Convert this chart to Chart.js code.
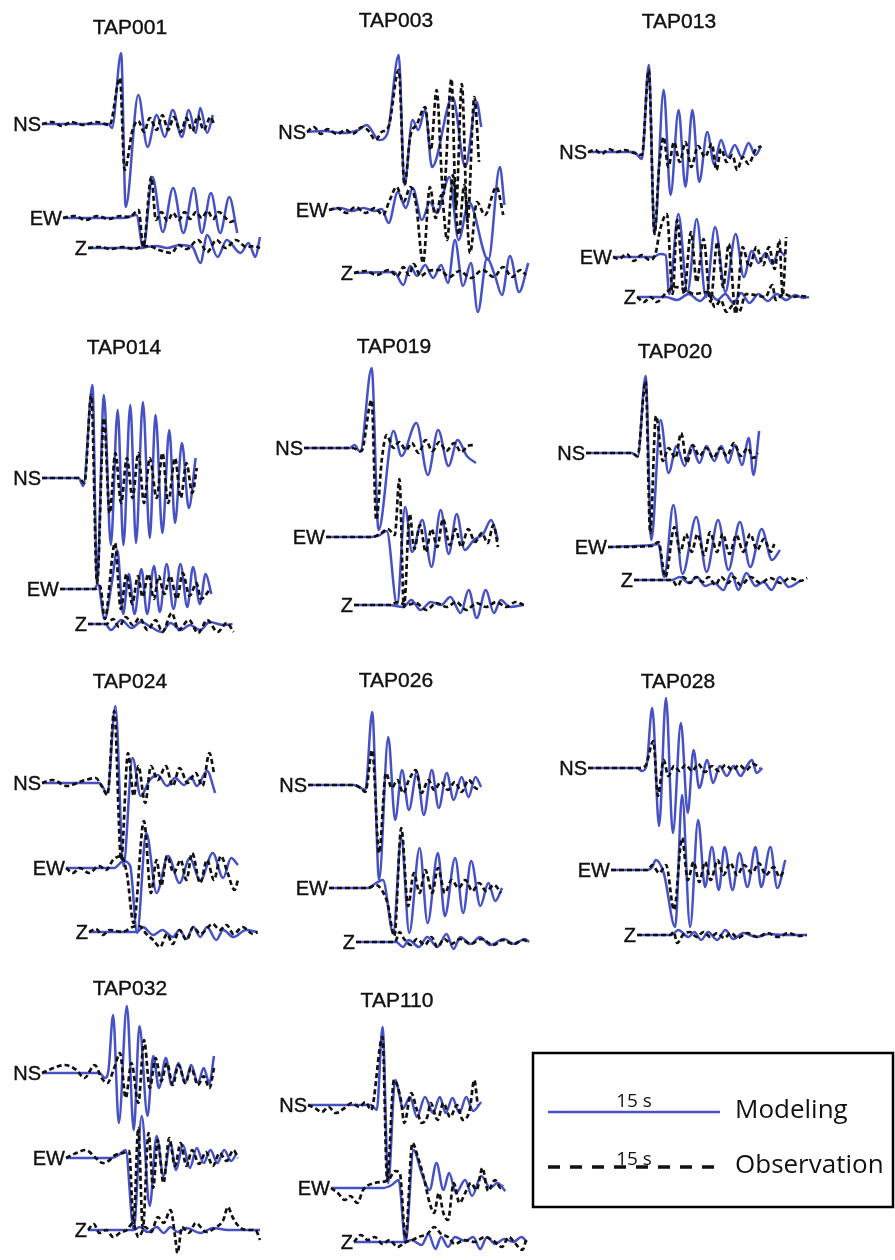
<!DOCTYPE html>
<html>
<head>
<meta charset="utf-8">
<title>Modeling vs observation waveforms</title>
<script src="https://cdn.jsdelivr.net/npm/chart.js@4.4.1/dist/chart.umd.min.js"></script>
<style>
  html, body { margin: 0; padding: 0; background: #fff; }
  #wrap { position: relative; width: 895px; height: 1260px; }
</style>
</head>
<body>
<div id="wrap"><canvas id="waves"></canvas></div>
<script>
// Each trace: [time after trace start (s), amplitude (arbitrary units)]
// "Mod" = modeling (blue), "Obs" = observation (black dashed)

const tap001NsMod = [[0,0],[5.8,0],[6.1,-0.4],[6.9,7.1],[7.3,-8.3],[8.4,2.9],[9.2,-2.3],[10.0,0.9],[10.7,-1.3],[11.4,1.4],[12.2,-1.3],[12.8,1.4],[13.4,-0.9],[13.8,1.6],[14.4,-0.9],[14.9,0.9]];
const tap001NsObs = [[0,0],[0.9,0.2],[1.7,-0.2],[2.6,0.2],[3.5,-0.1],[4.8,0.2],[5.9,-0.1],[6.8,4.6],[7.2,-4.6],[7.9,-0.6],[8.4,0.3],[8.9,-0.8],[9.4,0.6],[10.0,-0.6],[10.5,0.9],[11.0,-0.6],[11.5,0.7],[12.1,-0.8],[12.6,0.6],[13.1,-0.7],[13.6,0.8],[14.1,-0.6],[14.7,0.7],[15.0,0]];
const tap001EwMod = [[0,0],[5.3,0],[6.4,0.3],[7.0,-3.0],[7.8,4.1],[8.7,-1.4],[9.6,3.0],[10.5,-1.5],[11.4,3.0],[12.1,-1.5],[12.9,2.5],[13.7,-1.5],[14.5,2.1],[15.2,-1.5]];
const tap001EwObs = [[0,0],[1.0,0.2],[2.0,-0.2],[3.0,0.2],[4.0,-0.1],[5.0,0.2],[5.8,0.1],[6.6,0.8],[7.0,-2.9],[7.7,4.1],[8.1,-0.2],[8.6,0.6],[9.1,-0.3],[9.6,0.5],[10.1,-0.2],[10.6,0.6],[11.1,-0.1],[11.6,0.6],[12.1,0.0],[12.6,0.7],[13.1,-0.1],[13.6,0.6],[14.1,0.1],[14.6,-0.4],[15.0,-0.2]];
const tap001ZMod = [[0,0],[4.6,0],[5.1,0.1],[6.0,0.2],[6.9,0],[8.0,0.3],[9.1,0.1],[9.8,-1.5],[10.4,1.3],[11.3,-0.9],[12.1,0.8],[13.3,-0.5],[14.0,0.5],[14.6,-0.9],[15.0,1.1]];
const tap001ZObs = [[0,0],[1.0,0.1],[2.0,-0.1],[3.0,0.1],[4.0,-0.1],[4.6,0.1],[5.3,0.2],[6.2,-0.2],[7.3,-0.5],[7.9,0.3],[8.6,-0.1],[9.6,0.8],[10.4,-0.4],[11.2,0.8],[12.0,0.0],[12.9,0.8],[13.8,0.1],[14.5,0.2],[15.0,0]];

const tap003NsMod = [[0,0],[1.5,0.1],[3.0,-0.1],[4.5,0.2],[5.2,0.7],[6.3,-0.8],[7.0,-0.2],[8.0,7.7],[8.5,-5.3],[9.2,1.2],[9.7,0.2],[10.3,2.2],[10.9,-3.5],[12.7,3.5],[13.8,-3.5],[14.8,3.0],[15.2,0.5]];
const tap003NsObs = [[0,0],[0.6,0.5],[1.2,-0.2],[1.8,0.3],[2.6,-0.2],[3.4,0.2],[4.0,-0.2],[4.8,0.5],[5.3,0.2],[6.0,-0.8],[6.5,0],[7.1,0.5],[8.0,6.2],[8.5,-5.3],[9.0,-0.5],[9.6,0.8],[10.3,2.5],[10.8,-1.8],[11.3,4.2],[11.9,-6.2],[12.6,5.3],[13.0,-7.5],[13.5,4.8],[14.0,-9.0],[14.6,3.5],[15.0,-3.0]];
const tap003EwMod = [[0,0],[1.0,0.2],[2.0,-0.1],[3.0,0.2],[4.0,-0.1],[4.6,0.1],[5.2,-1.3],[6.0,1.8],[6.7,0.2],[7.3,2.2],[8.1,-1.0],[8.8,0.8],[9.4,-0.3],[10.5,3.3],[11.3,-3.0],[12.2,0.8],[13.9,-5.0],[14.9,4.3],[15.3,0.5]];
const tap003EwObs = [[0,0],[0.7,0.2],[1.5,-0.3],[2.3,0.3],[3.2,-0.3],[4.0,0.2],[4.7,-0.5],[5.3,1.0],[5.9,2.3],[6.5,0.8],[7.1,2.3],[7.6,0.5],[8.2,-5.3],[8.8,2.3],[9.3,-0.8],[9.8,1.5],[10.3,-3.0],[10.8,3.5],[11.3,-2.5],[11.8,2.5],[12.3,-4.3],[12.9,0.8],[13.6,-0.5],[14.6,2.3],[15.2,-0.5]];
const tap003ZMod = [[0,0],[3.5,0.1],[4.3,-1.2],[4.9,0.7],[5.5,-0.3],[6.2,0.8],[6.9,-0.5],[7.6,0.8],[8.2,-1.0],[8.8,3.3],[9.5,-1.3],[10.2,1.0],[10.8,-3.9],[11.6,1.5],[12.3,-0.3],[12.9,-2.2],[13.6,1.7],[14.4,-1.9],[15.2,1.0]];
const tap003ZObs = [[0,0],[1.0,0.2],[2.0,-0.2],[3.0,0.3],[3.8,-0.3],[4.3,0.6],[4.8,-0.2],[5.2,0.9],[5.8,-0.3],[6.5,0.2],[7.5,0.3],[8.3,-0.4],[9.2,0.2],[10.2,-0.5],[11.2,0.3],[12.2,-0.4],[13.0,0.6],[13.8,-0.4],[14.5,0.3],[15.0,-0.2]];

const tap013NsMod = [[0,0],[4.0,0],[4.7,-0.7],[5.3,8.7],[5.8,-8.2],[6.6,6.2],[7.2,-4.3],[7.9,4.2],[8.5,-3.5],[9.1,4.2],[9.7,-3.0],[10.4,2.0],[11.0,-1.2],[11.6,1.2],[12.2,-0.5],[12.8,0.7],[13.4,-0.5],[14.0,0.9],[14.6,-0.3],[15.1,0.6]];
const tap013NsObs = [[0,0],[0.6,0.2],[1.2,-0.2],[1.8,0.3],[2.5,0],[3.2,0.2],[4.0,-0.1],[4.7,-0.3],[5.3,8.2],[5.8,-8.2],[6.2,-1.5],[6.6,1.5],[7.0,-1.5],[7.5,1.0],[8.0,-1.0],[8.5,1.0],[9.0,-1.5],[9.6,0.6],[10.2,-0.5],[10.8,0.8],[11.2,-1.8],[11.6,0.3],[12.1,-1.0],[12.6,-0.3],[13.0,-1.8],[13.5,-0.5],[14.0,-1.2],[14.6,0.2],[15.1,0.6]];
const tap013EwMod = [[0,0],[3.5,0],[4.1,0.3],[4.6,0.2],[4.9,-3.7],[5.7,4.3],[6.5,-3.5],[7.3,3.8],[8.1,-4.0],[8.9,3.0],[9.8,-3.5],[10.7,2.3],[11.4,-2.0],[12.1,0.6],[12.7,-0.6],[13.3,0.4],[13.9,-0.7],[14.5,0.6],[15.0,0.1]];
const tap013EwObs = [[0,0],[0.5,-0.2],[1.2,0.3],[1.8,-0.4],[2.5,0.2],[3.2,-0.3],[3.7,0.3],[4.1,2.7],[4.7,4.3],[5.2,-3.7],[5.6,3.7],[6.2,-3.7],[6.8,2.5],[7.3,-2.5],[7.9,1.8],[8.5,-4.5],[9.1,1.5],[9.6,-3.0],[10.1,1.3],[10.7,-5.7],[11.3,1.0],[11.9,-1.0],[12.5,1.0],[13.1,-0.8],[13.6,1.0],[14.1,-1.2],[14.5,1.7],[14.8,-3.8],[15.1,2.0]];
const tap013ZMod = [[0,0],[2.5,0],[3.5,-0.3],[4.5,0.3],[5.5,-0.4],[6.3,0.4],[7.0,-0.3],[7.7,0.3],[8.4,-0.6],[9.1,0.4],[9.8,-0.6],[10.6,0.3],[11.4,-0.4],[12.2,0.3],[13.0,-0.3],[13.8,0.2],[14.5,-0.1],[15.0,0]];
const tap013ZObs = [[0,0],[0.6,-0.5],[1.2,0],[1.7,-0.5],[2.6,0.5],[3.3,1.0],[4.1,0.8],[5.0,0.3],[6.2,0.5],[6.8,-1.0],[7.3,-0.3],[7.8,-1.5],[8.4,-0.8],[8.9,-1.5],[9.5,0.3],[10.3,0.2],[11.2,0],[11.8,1.2],[12.1,-0.3],[12.8,0.3],[13.6,0],[14.4,0.1],[15.0,0]];

const tap014NsMod = [[0,0],[3.2,0],[3.6,-0.8],[4.4,9.3],[4.8,-10.5],[5.4,8.3],[6.0,-6.7],[6.6,6.8],[7.1,-6.7],[7.7,7.3],[8.2,-6.5],[8.8,7.6],[9.4,-6.0],[9.9,6.3],[10.5,-5.5],[11.1,4.8],[11.6,-4.5],[12.2,3.5],[12.8,-3.0],[13.4,2.0]];
const tap014NsObs = [[0,0],[3.2,0],[3.7,-0.5],[4.3,8.3],[4.8,-10.5],[5.4,6.0],[5.9,-3.5],[6.4,2.5],[6.9,-2.5],[7.4,2.0],[7.9,-2.0],[8.4,2.5],[8.9,-2.5],[9.4,2.0],[10.0,-2.0],[10.5,2.5],[11.0,-2.5],[11.6,2.0],[12.1,-2.0],[12.6,1.5],[13.1,-1.5],[13.5,1.0]];
const tap014EwMod = [[0,0],[3.0,0],[3.3,0.5],[3.9,-3.0],[4.5,0.5],[5.0,3.9],[5.5,-2.5],[6.0,1.5],[6.5,-2.5],[7.1,2.0],[7.6,-2.5],[8.2,2.3],[8.7,-2.3],[9.3,2.5],[9.9,-2.0],[10.5,2.5],[11.1,-1.8],[11.6,2.2],[12.2,-1.5],[12.7,1.5],[13.2,-0.5]];
const tap014EwObs = [[0,0],[3.1,0],[3.5,0.3],[3.9,-3.0],[4.8,4.6],[5.3,-2.0],[5.8,1.5],[6.3,-1.5],[6.8,1.3],[7.2,-0.8],[7.7,1.5],[8.2,-1.0],[8.6,1.3],[9.1,-0.5],[9.6,1.3],[10.2,-1.0],[10.7,1.6],[11.3,-0.7],[11.9,0.6],[12.3,-1.0],[13.1,0]];
const tap014ZMod = [[0,0],[1.5,0],[2.0,-0.6],[2.9,0.4],[3.8,-0.4],[4.6,0.2],[5.5,-0.3],[6.4,-0.8],[7.2,0.1],[8.1,-0.6],[8.9,-0.1],[9.8,-0.6],[10.6,0.2],[11.8,-0.1],[12.6,0]];
const tap014ZObs = [[0,0],[1.6,0],[2.2,0.5],[2.7,-0.3],[3.3,0.7],[3.9,-0.1],[4.5,0.6],[5.2,-0.6],[5.9,0.4],[6.5,-0.8],[7.3,1.1],[7.9,-0.6],[8.8,0.4],[9.6,-0.9],[10.4,0.4],[11.3,-0.8],[12.1,0.1],[12.7,-0.8]];

const tap019NsMod = [[0,0],[4.0,0],[4.4,0.3],[4.9,-0.4],[5.9,8.0],[6.5,-8.2],[7.8,1.7],[8.5,-0.8],[9.8,2.5],[10.8,-2.7],[11.7,1.8],[12.6,-1.8],[13.4,0.8],[14.2,-0.8],[15.0,-1.5]];
const tap019NsObs = [[0,0],[4.2,0],[5.0,-0.3],[5.9,4.8],[6.3,-7.2],[6.8,-1.0],[7.2,1.3],[7.8,0],[8.3,0.6],[8.9,-0.2],[9.4,0.5],[10.0,-0.5],[10.6,0.8],[11.2,-0.3],[11.8,0.6],[12.4,-0.3],[13.1,0.5],[13.7,-0.4],[14.3,0.2],[14.8,0.3]];
const tap019EwMod = [[0,0],[4.0,0],[4.7,0.2],[5.3,0.6],[6.2,-6.8],[6.9,3.0],[7.5,-1.5],[8.4,1.7],[9.2,-3.0],[10.0,2.7],[10.7,-1.7],[11.4,2.3],[12.1,-1.3],[12.9,-0.3],[13.7,0.3],[14.4,1.7],[15.0,-0.3]];
const tap019EwObs = [[0,0],[4.0,0],[4.7,0.3],[5.4,0.8],[6.0,0.2],[6.4,5.8],[6.8,-7.0],[7.3,2.3],[7.7,-1.2],[8.2,1.2],[8.7,-1.5],[9.2,0.8],[9.7,-1.0],[10.2,1.8],[10.8,-0.8],[11.3,0.8],[11.8,-1.0],[12.4,0.8],[13.0,-0.5],[13.6,0.4],[14.1,-0.6],[14.6,1.2],[15.0,-1.0]];
const tap019ZMod = [[0,0],[3.0,0],[4.3,-0.2],[5.0,0.5],[5.8,-0.5],[6.7,0.3],[7.6,0],[8.4,0.8],[9.3,-0.8],[10.0,1.5],[10.7,-1.3],[11.5,1.5],[12.2,-0.8],[12.8,0.5],[13.6,-0.2],[14.8,0]];
const tap019ZObs = [[0,0],[3.2,0],[3.8,0.3],[4.6,0],[5.4,0.2],[6.3,-0.5],[7.2,0.2],[8.1,-0.2],[8.9,0.3],[9.8,-0.5],[10.7,0.2],[11.5,-0.2],[12.4,0.3],[13.3,-0.2],[14.1,0.3],[14.8,0]];

const tap020NsMod = [[0,0],[4.0,0],[4.5,-0.4],[5.2,7.7],[5.7,-8.7],[6.5,3.3],[7.2,-2.0],[7.9,0.7],[8.6,-1.3],[9.2,0.7],[9.9,-1.0],[10.5,0.7],[11.2,-0.8],[11.8,0.7],[12.4,-1.0],[13.0,0.8],[13.6,-1.2],[14.2,1.5],[14.6,-2.2],[15.1,2.2]];
const tap020NsObs = [[0,0],[4.0,0],[4.5,-0.3],[5.2,7.2],[5.6,-8.0],[6.1,3.7],[6.7,-0.8],[7.2,0.5],[7.8,-0.5],[8.3,2.0],[8.8,-1.0],[9.3,0.8],[9.9,-0.3],[10.5,0.5],[11.1,-0.5],[11.7,0.5],[12.3,-0.3],[12.9,1.0],[13.5,-0.3],[14.1,0.5],[14.6,-0.5],[15.0,0]];
const tap020EwMod = [[0,0],[3.8,0.2],[4.4,0.3],[4.9,-3.0],[5.7,4.2],[6.5,-2.7],[7.7,3.0],[8.6,-2.5],[9.6,2.7],[10.5,-2.3],[11.5,2.5],[12.4,-2.0],[13.4,1.8],[14.3,-1.3],[15.0,-0.3]];
const tap020EwObs = [[0,0],[3.8,0.1],[4.4,0.5],[5.0,-3.0],[5.8,2.0],[6.3,-0.5],[6.8,1.3],[7.3,-0.5],[7.8,1.3],[8.4,-0.8],[8.9,1.5],[9.5,-0.5],[10.0,1.3],[10.6,-0.7],[11.2,1.2],[11.8,-0.5],[12.4,1.3],[13.0,-0.3],[13.6,0.8],[14.2,-0.5],[14.5,0.3]];
const tap020ZMod = [[0,0],[3.3,0],[4.0,0.3],[4.8,-0.3],[5.5,0.3],[6.2,-0.6],[7.0,-0.3],[7.8,-1.0],[8.5,0.7],[9.1,-1.0],[9.8,0.7],[10.6,-0.6],[11.3,-0.2],[12.0,-1.0],[12.7,0.3],[13.5,-0.7],[14.6,0]];
const tap020ZObs = [[0,0],[3.3,0],[3.8,-0.6],[4.3,0.3],[4.9,-0.3],[5.4,0.3],[6.0,-0.2],[6.5,0.3],[7.1,-0.5],[7.6,0.3],[8.2,-0.3],[8.7,0.3],[9.3,-0.5],[10.2,0.3],[11.0,-0.3],[11.9,0.2],[12.8,-0.3],[13.6,0.2],[14.5,-0.1],[15.1,0.2]];

const tap024NsMod = [[0,0],[5.0,0],[5.7,-1.0],[6.4,7.7],[7.1,-8.3],[7.9,2.5],[8.6,-1.3],[9.4,0.3],[10.1,0.8],[10.9,-0.3],[11.6,0.5],[12.4,-0.2],[13.0,0.6],[13.5,-0.3],[14.4,1.2],[15.1,-1.0]];
const tap024NsObs = [[0,0],[0.9,0.3],[2.2,-0.3],[3.5,0.2],[4.7,0.5],[5.2,-0.3],[5.7,-1.2],[6.3,7.2],[6.9,-7.7],[7.5,3.0],[8.0,-1.3],[8.4,1.7],[9.0,-2.0],[9.5,1.7],[10.1,0.3],[10.8,1.7],[11.4,-0.3],[12.0,1.5],[12.7,0],[13.4,1.0],[14.0,-0.3],[14.6,3.0],[15.0,1.0]];
const tap024EwMod = [[0,0],[4.2,0],[5.0,0.7],[5.6,0.2],[6.2,-6.5],[7.0,3.5],[7.9,-2.5],[8.9,1.2],[9.9,-1.5],[10.8,1.0],[11.7,-1.3],[12.8,1.5],[13.7,-1.0],[14.4,1.0],[15.0,0.3]];
const tap024EwObs = [[0,0],[0.6,-0.5],[1.2,0],[2.0,-0.5],[2.9,0.2],[3.5,-0.2],[4.1,0.8],[4.8,1.2],[5.3,-0.5],[5.9,-5.5],[6.8,4.7],[7.4,-2.5],[7.9,0.8],[8.3,-1.8],[8.8,1.2],[9.4,-0.5],[10.0,0.8],[10.5,-1.2],[11.0,1.5],[11.7,-1.5],[12.3,0.8],[12.9,-1.2],[13.5,1.2],[14.1,-0.5],[14.7,-2.2],[15.0,-1.2]];
const tap024ZMod = [[0,0],[4.2,0],[4.7,0.5],[5.6,-0.3],[6.4,0.2],[7.3,-0.5],[7.9,0.2],[8.5,-0.7],[9.1,0.5],[9.7,-0.5],[10.3,0.5],[11.1,-0.8],[11.7,0.2],[12.6,-0.5],[13.7,0.2],[14.7,0]];
const tap024ZObs = [[0,0],[0.6,0.3],[1.2,-0.3],[1.8,0.2],[2.9,0],[3.8,0.5],[4.4,0.6],[5.0,-0.2],[5.6,-0.8],[6.2,-1.5],[6.8,-0.2],[7.3,-1.2],[7.9,0.2],[8.5,-0.8],[9.1,0.5],[9.7,-0.2],[10.8,0.8],[11.4,0.2],[12.0,0.7],[12.6,-0.2],[13.4,0.5],[14.3,-0.2],[14.7,0]];

const tap026NsMod = [[0,0],[4.0,0],[4.6,-0.3],[5.0,-0.5],[5.6,7.3],[6.2,-9.5],[7.0,4.8],[7.6,-3.5],[8.2,1.5],[8.8,-2.5],[9.5,1.3],[10.1,-3.0],[10.8,1.5],[11.4,-2.3],[12.1,1.2],[12.7,-1.5],[13.4,0.8],[14.0,-1.2],[14.6,0.8],[15.1,-0.2]];
const tap026NsObs = [[0,0],[4.0,0],[4.6,-0.3],[5.0,-0.7],[5.6,3.5],[6.2,-6.8],[6.8,1.2],[7.3,-0.3],[7.8,0.5],[8.3,-0.8],[8.8,0.5],[9.4,1.5],[9.9,-0.8],[10.5,0.5],[11.0,-0.5],[11.6,0.3],[12.2,-0.5],[12.8,0.3],[13.4,-0.7],[14.0,0.5],[14.6,-0.3],[15.0,-0.5]];
const tap026EwMod = [[0,0],[3.4,0],[4.1,0.5],[4.7,0.8],[5.6,-4.5],[6.3,5.0],[7.0,-4.5],[7.9,4.0],[8.6,-3.5],[9.5,3.5],[10.1,-2.8],[11.0,3.0],[11.7,-2.5],[12.4,2.7],[13.2,-1.8],[13.9,0.5],[14.5,-1.3],[15.1,0]];
const tap026EwObs = [[0,0],[3.4,0],[4.1,0.3],[4.6,-0.2],[5.1,-1.5],[5.7,-4.8],[6.3,6.0],[6.9,-1.8],[7.4,1.5],[7.9,-0.5],[8.4,1.8],[9.0,-0.5],[9.5,2.0],[10.1,-0.5],[10.7,0.8],[11.3,0],[11.9,0.8],[12.5,-0.3],[13.1,0.5],[13.7,-0.3],[14.4,0.3],[15.0,-0.5]];
const tap026ZMod = [[0,0],[3.5,0],[4.1,-0.5],[4.6,0.2],[5.5,-0.5],[6.2,0.5],[7.1,-0.5],[7.9,0.8],[8.5,-0.7],[9.1,0.5],[10.0,-0.2],[10.8,0.5],[11.7,-0.3],[12.9,0.3],[13.8,-0.2],[14.7,0.3],[15.1,0]];
const tap026ZObs = [[0,0],[3.4,0],[3.8,1.0],[4.2,0.3],[4.8,-0.3],[5.3,0.3],[6.0,-0.3],[6.6,0.5],[7.1,-0.5],[7.7,0.3],[8.3,-0.2],[9.1,0.3],[10.0,-0.2],[10.9,0.3],[12.0,-0.3],[12.8,0.2],[13.7,-0.2],[14.6,0.2],[15.0,0]];

const tap028NsMod = [[0,0],[4.3,0],[4.7,-0.3],[5.1,0.2],[5.6,6.0],[6.2,-5.8],[6.8,7.0],[7.4,-6.5],[8.1,4.5],[8.7,-4.5],[9.2,1.8],[9.7,-2.0],[10.4,0.8],[10.9,-1.5],[11.5,0.2],[12.1,-0.8],[12.7,0.2],[13.3,-0.8],[13.9,0.3],[14.3,0.8],[14.7,-0.5],[15.2,0]];
const tap028NsObs = [[0,0],[4.3,0],[5.0,0.2],[5.7,2.7],[6.1,-2.8],[6.6,0.8],[7.0,-0.8],[7.5,0.2],[8.0,-0.3],[8.5,0.3],[9.1,-0.3],[9.6,0.4],[10.2,-0.4],[10.8,0.2],[11.4,-0.3],[12.0,0.3],[12.6,-0.2],[13.2,0.3],[13.8,-0.2],[14.4,0.4],[15.0,0]];
const tap028EwMod = [[0,0],[3.2,0],[3.6,0.3],[3.9,1.0],[4.6,-0.3],[5.6,-5.7],[6.2,7.5],[6.9,-5.7],[7.6,5.0],[8.2,-1.7],[8.8,2.3],[9.4,-2.0],[9.9,2.3],[10.6,-2.0],[11.2,1.7],[11.9,-1.7],[12.6,2.3],[13.1,-1.7],[13.9,2.3],[14.5,-1.8],[15.2,1.0]];
const tap028EwObs = [[0,0],[3.2,0],[3.6,0.5],[4.2,-0.3],[4.8,0.5],[5.5,-4.0],[6.2,3.2],[6.7,-1.0],[7.2,0.8],[7.7,-1.2],[8.2,0.8],[8.7,-1.0],[9.3,1.0],[9.8,-0.5],[10.4,0.7],[11.0,-0.5],[11.6,0.5],[12.3,-0.3],[12.9,0.7],[13.5,-0.5],[14.2,0.3],[14.7,-0.7],[15.1,0]];
const tap028ZMod = [[0,0],[3.0,0],[3.6,0.5],[4.5,-0.2],[5.0,0.3],[5.6,-0.5],[6.2,0.3],[7.0,-0.5],[7.7,0.5],[8.4,-0.4],[9.3,0.2],[10.4,-0.2],[11.5,0.1],[12.7,0],[14.8,0]];
const tap028ZObs = [[0,0],[2.9,0],[3.2,0.3],[3.5,-0.8],[4.0,0],[4.6,0.3],[5.2,-0.2],[5.8,0.3],[6.4,-0.2],[7.0,0.2],[7.6,-0.3],[8.2,0.2],[8.8,-0.3],[9.6,0.2],[10.5,-0.2],[11.4,0.2],[12.3,-0.2],[13.2,0.2],[14.1,-0.1],[14.8,0]];

const tap032NsMod = [[0,0],[5.0,0],[5.5,-0.5],[5.8,0.3],[6.2,5.8],[6.7,-5.0],[7.4,6.7],[8.0,-5.7],[8.5,4.7],[9.2,-4.3],[9.7,1.7],[10.2,-1.5],[10.8,1.5],[11.3,-1.2],[11.9,1.0],[12.5,-1.0],[13.0,0.8],[13.6,-1.0],[14.1,0.5],[14.6,-1.0],[15.0,1.7]];
const tap032NsObs = [[0,0],[1.0,0.5],[2.0,0.8],[3.0,0.3],[3.7,-0.5],[4.6,0.8],[5.2,-0.5],[5.7,-1.0],[6.3,0.5],[6.8,2.0],[7.3,-2.5],[7.8,1.0],[8.4,-3.0],[8.9,3.3],[9.4,-1.5],[9.9,1.5],[10.4,-0.8],[10.9,1.0],[11.4,-1.2],[11.9,0.8],[12.5,-1.0],[13.0,0.5],[13.6,-1.2],[14.1,-0.3],[14.6,-1.5],[15.0,0.5]];
const tap032EwMod = [[0,0],[4.0,0],[4.6,0.3],[5.2,0.8],[5.9,-7.2],[6.6,4.2],[7.3,-4.8],[7.9,2.2],[8.5,-1.8],[9.1,1.5],[9.6,-1.2],[10.2,1.3],[10.8,-1.0],[11.4,1.0],[12.0,-0.5],[12.6,0.8],[13.2,-0.5],[13.8,0.8],[14.4,-0.3],[14.9,0.5]];
const tap032EwObs = [[0,0],[0.9,0.5],[1.7,0.8],[2.6,0],[3.2,-0.5],[3.7,-0.3],[4.3,0.3],[5.0,0.5],[5.5,0.7],[5.9,-6.5],[6.3,3.0],[6.7,-7.0],[7.2,2.5],[7.6,-3.0],[8.0,1.8],[8.5,-2.5],[9.0,2.0],[9.5,-0.8],[10.0,1.5],[10.5,-0.8],[11.0,0.8],[11.6,-0.6],[12.2,0.6],[12.8,-0.8],[13.4,0.5],[14.0,-0.3],[14.6,0.8],[15.0,0]];
const tap032ZMod = [[0,0],[4.0,0],[4.5,0.3],[5.2,-0.2],[6.0,0.3],[6.6,-0.3],[7.2,0.3],[7.8,-0.2],[8.6,0.2],[9.8,-0.3],[10.9,0.2],[12.2,0],[15.0,0]];
const tap032ZObs = [[0,0],[0.5,0.6],[1.0,-0.3],[1.6,0],[2.2,-0.7],[2.9,-0.2],[3.4,0],[3.9,0.7],[4.4,-0.7],[5.0,0.3],[5.5,-0.2],[6.1,1.3],[6.6,0.7],[7.2,2.0],[7.6,-0.7],[7.8,-2.3],[8.2,0.3],[8.8,-0.3],[9.4,0.7],[10.3,-0.2],[11.2,0.3],[11.8,1.0],[12.2,2.3],[12.6,1.3],[13.2,0.3],[13.8,0],[14.6,0],[15.0,-1.0]];

const tap110NsMod = [[0,0],[5.5,0],[6.0,-0.5],[6.5,7.8],[7.0,-7.8],[7.6,2.5],[8.3,-0.3],[8.9,0.8],[9.5,-1.2],[10.2,0.8],[10.9,-0.8],[11.5,0.8],[12.0,-0.8],[12.6,0.7],[13.2,-0.8],[13.8,0.8],[14.4,-0.6],[15.1,0.3]];
const tap110NsObs = [[0,0],[0.6,-0.3],[1.2,-0.7],[1.8,-0.2],[2.4,-0.8],[3.2,-0.3],[3.8,0.2],[4.5,-0.2],[5.0,0.3],[5.5,-0.5],[6.5,6.8],[6.9,-7.5],[7.5,2.5],[8.1,0.5],[8.4,-1.8],[9.0,1.2],[9.5,-0.5],[9.9,-1.8],[10.4,-1.2],[10.7,0.2],[11.3,-1.5],[11.8,0.2],[12.4,-1.2],[13.0,0],[13.5,-1.5],[14.1,-0.5],[14.5,2.5],[14.8,0]];
const tap110EwMod = [[0,0],[4.5,0],[5.3,0.3],[5.9,0.8],[6.5,-5.5],[7.2,3.8],[7.9,1.5],[8.6,-0.2],[9.2,2.5],[9.8,-0.2],[10.3,1.5],[10.9,-0.5],[11.7,0.8],[12.3,-0.8],[13.1,1.2],[13.9,0],[14.5,0.5],[15.2,-0.3]];
const tap110EwObs = [[0,0],[0.6,-0.5],[1.2,-1.2],[1.7,-0.8],[2.3,-1.5],[2.8,-0.2],[3.8,0.5],[5.0,0.8],[5.6,1.7],[6.0,1.5],[6.5,-5.0],[7.1,4.5],[7.6,3.0],[8.1,1.0],[8.6,-1.5],[9.0,-2.5],[9.4,-0.5],[9.8,-2.5],[10.2,-3.2],[10.7,0.5],[11.2,-1.5],[11.7,-0.5],[12.2,0.5],[12.7,-0.2],[13.2,2.0],[13.7,-0.3],[14.3,0.8],[14.8,0],[15.0,0.3]];
const tap110ZMod = [[0,0],[4.5,0],[5.0,0.2],[5.9,-0.3],[6.5,0.8],[7.1,-0.7],[7.6,0.5],[8.2,-0.5],[8.8,0.5],[9.7,0.1],[10.4,0.5],[11.0,-0.7],[11.6,0.5],[12.3,-0.2],[13.1,0.3],[13.9,0],[14.6,0.5],[15.1,0]];
const tap110ZObs = [[0,0],[0.6,0.7],[1.2,0.2],[1.8,0.5],[2.5,-0.2],[3.1,0.2],[3.8,-0.5],[4.5,0],[5.1,0.2],[5.6,0.5],[6.4,0.8],[7.0,1.5],[7.6,0.8],[8.2,0.5],[8.8,-0.2],[9.6,0.2],[10.5,0],[11.4,0.5],[12.3,0],[12.9,-0.5],[13.5,0.5],[14.1,-0.2],[14.7,-0.8],[15.0,0.2]];

const stations = ["TAP001", "TAP003", "TAP013", "TAP014", "TAP019", "TAP020", "TAP024", "TAP026", "TAP028", "TAP032", "TAP110"];
const components = ["NS", "EW", "Z"];
const modeling = [
  [tap001NsMod, tap001EwMod, tap001ZMod], [tap003NsMod, tap003EwMod, tap003ZMod], [tap013NsMod, tap013EwMod, tap013ZMod],
  [tap014NsMod, tap014EwMod, tap014ZMod], [tap019NsMod, tap019EwMod, tap019ZMod], [tap020NsMod, tap020EwMod, tap020ZMod],
  [tap024NsMod, tap024EwMod, tap024ZMod], [tap026NsMod, tap026EwMod, tap026ZMod], [tap028NsMod, tap028EwMod, tap028ZMod],
  [tap032NsMod, tap032EwMod, tap032ZMod], [tap110NsMod, tap110EwMod, tap110ZMod],
];
const observation = [
  [tap001NsObs, tap001EwObs, tap001ZObs], [tap003NsObs, tap003EwObs, tap003ZObs], [tap013NsObs, tap013EwObs, tap013ZObs],
  [tap014NsObs, tap014EwObs, tap014ZObs], [tap019NsObs, tap019EwObs, tap019ZObs], [tap020NsObs, tap020EwObs, tap020ZObs],
  [tap024NsObs, tap024EwObs, tap024ZObs], [tap026NsObs, tap026EwObs, tap026ZObs], [tap028NsObs, tap028EwObs, tap028ZObs],
  [tap032NsObs, tap032EwObs, tap032ZObs], [tap110NsObs, tap110EwObs, tap110ZObs],
];
const scaleBarSeconds = [0, 15];
const legendLabels = ["Modeling", "Observation"];

// ---- layout (page pixels) ----
const PAGE_W = 895, PAGE_H = 1260;
const PX_PER_S = 172 / 15;   // 15 s scale bar is 172 px long
const PX_PER_UNIT = 10;
const BLUE = "#4651c6";
const BLACK = "#111111";

const titlePos = [[130, 28], [396, 21], [679, 22], [124, 348], [394, 347], [675, 352], [130, 682], [396, 681], [678, 682], [130, 989], [397, 1001]];
// trace start (x) and baseline (y) for NS, EW, Z of each station
const traceOrigin = [
  [[42, 124], [63, 218], [88, 248]],
  [[307, 132], [329, 210], [354, 273]],
  [[588, 152], [613, 257], [637, 297]],
  [[42, 478], [60, 589], [88, 624]],
  [[304, 448], [326, 537], [354, 605]],
  [[586, 453], [608, 547], [634, 580]],
  [[42, 783], [66, 868], [89, 932]],
  [[308, 785], [329, 888], [356, 942]],
  [[588, 768], [611, 870], [637, 935]],
  [[42, 1073], [66, 1158], [88, 1230]],
  [[308, 1105], [331, 1188], [354, 1242]],
];
const legendBox = { left: 533, top: 1053, right: 893, bottom: 1207 };
const legendKeyOrigin = [[548, 1112], [548, 1167]];

function place(points, x0, y0) {
  return points.map(([t, a]) => ({ x: x0 / PX_PER_S + t, y: -y0 / PX_PER_UNIT + a }));
}

const datasets = [];
stations.forEach((st, i) => {
  components.forEach((comp, j) => {
    const [x0, y0] = traceOrigin[i][j];
    datasets.push({
      label: `${st} ${comp} modeling`,
      data: place(modeling[i][j], x0, y0),
      borderColor: BLUE,
      borderWidth: 2.5,
      order: 2,
    });
    datasets.push({
      label: `${st} ${comp} observation`,
      data: place(observation[i][j], x0, y0),
      borderColor: BLACK,
      borderWidth: 2.7,
      borderDash: [5, 3],
      order: 1,
    });
  });
});

// legend keys, 15 s long, drawn on the same time axis
legendKeyOrigin.forEach(([x0, y0], k) => {
  datasets.push({
    label: legendLabels[k] + " key",
    data: scaleBarSeconds.map((t) => ({ x: x0 / PX_PER_S + t, y: -y0 / PX_PER_UNIT })),
    borderColor: k === 0 ? BLUE : BLACK,
    borderWidth: k === 0 ? 2.5 : 3.5,
    borderDash: k === 0 ? [] : [12, 10],
    cubicInterpolationMode: "default",
    tension: 0,
    order: 0,
  });
});

const annotations = {
  id: "annotations",
  beforeDatasetsDraw(chart) {
    const { ctx } = chart;
    ctx.save();
    ctx.strokeStyle = "#000";
    ctx.lineWidth = 2.5;
    ctx.strokeRect(legendBox.left, legendBox.top, legendBox.right - legendBox.left, legendBox.bottom - legendBox.top);
    ctx.restore();
  },
  afterDatasetsDraw(chart) {
    const { ctx, scales } = chart;
    ctx.save();
    ctx.fillStyle = BLACK;
    ctx.strokeStyle = BLACK;
    ctx.lineWidth = 0.4;

    // station titles
    ctx.font = '21px "Liberation Sans", Arial, sans-serif';
    ctx.textAlign = "center";
    ctx.textBaseline = "middle";
    stations.forEach((st, i) => {
      ctx.fillText(st, titlePos[i][0], titlePos[i][1]);
      ctx.strokeText(st, titlePos[i][0], titlePos[i][1]);
    });

    // component labels at the start of each trace
    ctx.font = '20px "Liberation Sans", Arial, sans-serif';
    ctx.textAlign = "right";
    stations.forEach((st, i) => {
      components.forEach((comp, j) => {
        const [x0, y0] = traceOrigin[i][j];
        const px = scales.x.getPixelForValue(x0 / PX_PER_S);
        const py = scales.y.getPixelForValue(-y0 / PX_PER_UNIT);
        ctx.fillText(comp, px - 1, py + 1);
        ctx.strokeText(comp, px - 1, py + 1);
      });
    });

    // legend texts
    legendKeyOrigin.forEach(([x0, y0], k) => {
      const xs = scales.x.getPixelForValue(x0 / PX_PER_S + scaleBarSeconds[0]);
      const xe = scales.x.getPixelForValue(x0 / PX_PER_S + scaleBarSeconds[1]);
      const py = scales.y.getPixelForValue(-y0 / PX_PER_UNIT);
      ctx.font = '19px "Open Sans", "Noto Sans", sans-serif';
      ctx.textAlign = "center";
      ctx.textBaseline = "alphabetic";
      ctx.fillText(`${scaleBarSeconds[1]} s`, (xs + xe) / 2, py - (k === 0 ? 5 : 2));
      ctx.font = '26px "Open Sans", "Noto Sans", sans-serif';
      ctx.textAlign = "left";
      ctx.textBaseline = "middle";
      ctx.fillText(legendLabels[k], xe + 15, py - 1);
    });
    ctx.restore();
  },
};

new Chart(document.getElementById("waves"), {
  type: "line",
  data: { datasets },
  options: {
    responsive: true,
    maintainAspectRatio: false,
    animation: false,
    layout: { padding: 0 },
    elements: {
      point: { radius: 0, hoverRadius: 0 },
      line: { cubicInterpolationMode: "monotone", fill: false },
    },
    datasets: { line: { clip: false } },
    scales: {
      x: { type: "linear", min: 0, max: PAGE_W / PX_PER_S, display: false },
      y: { type: "linear", min: -PAGE_H / PX_PER_UNIT, max: 0, display: false },
    },
    plugins: {
      legend: { display: false },
      tooltip: { enabled: false },
    },
    events: [],
  },
  plugins: [annotations],
});
</script>
</body>
</html>
